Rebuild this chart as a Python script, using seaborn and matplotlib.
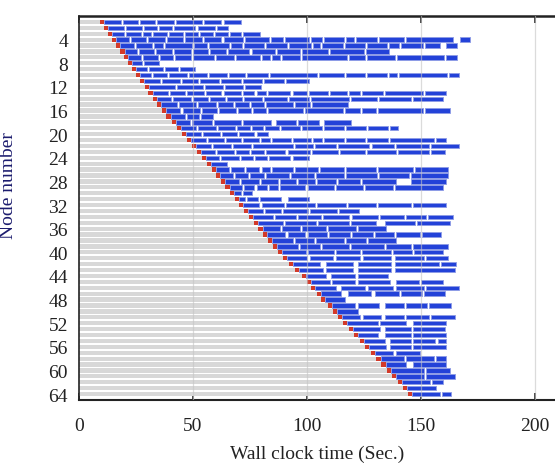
import numpy as np
import pandas as pd
import matplotlib
matplotlib.use("Agg")
import matplotlib.pyplot as plt
import seaborn as sns

# ---------------- data ----------------
nodes = list(range(1, 65))

start_times = [9.2, 11.0, 12.9, 14.6, 16.4, 18.2, 19.9, 21.6, 23.3, 25.0,
               26.9, 28.8, 30.5, 32.5, 34.3, 36.3, 38.4, 40.8, 43.1, 45.3,
               47.3, 49.4, 51.6, 53.8, 56.0, 58.3, 60.3, 62.3, 64.3, 66.3,
               68.4, 70.3, 72.5, 74.7, 76.8, 78.8, 80.8, 83.0, 85.2, 87.4,
               89.5, 92.2, 95.0, 97.7, 99.9, 102.0, 104.3, 106.4, 109.4, 111.5,
               113.7, 115.9, 118.6, 120.8, 123.2, 125.7, 128.0, 130.6, 132.8, 135.2,
               137.6, 140.0, 142.3, 144.4]

end_times = [71.3, 65.5, 79.5, 171.5, 166.0, 136.0, 166.0, 35.0, 51.0, 167.0,
             101.0, 80.0, 161.0, 160.0, 118.0, 163.0, 59.0, 119.6, 140.0, 83.0,
             161.0, 167.0, 160.5, 101.0, 65.0, 162.0, 162.0, 161.0, 160.0, 76.0,
             101.0, 161.0, 123.0, 164.0, 163.0, 135.0, 159.0, 139.0, 162.0, 160.0,
             162.0, 165.6, 165.0, 135.7, 159.8, 167.0, 160.5, 116.7, 163.5, 122.5,
             165.0, 161.3, 160.5, 161.3, 161.3, 161.3, 149.6, 161.3, 161.3, 162.7,
             165.0, 159.8, 156.9, 163.5]

# breaks between consecutive tasks (sec): a number = short break centred there,
# a pair = wider idle gap (from, to)
task_breaks = {
    1: [19.0, 26.4, 33.7, 42.0, 54.5, 63.0],
    2: [20.0, 28.0, 34.5, 41.3, 51.6, 60.3],
    3: [20.2, 27.5, 32.2, 39.2, 46.2, 52.6, 59.2, 65.9, 71.4],
    4: [22.4, 30.0, 38.2, 46.2, 54.5, 63.0, 72.4, 83.8, 89.9, 101.6, 107.2,
        116.7, 121.0, 131.3, 143.0, (164.3, 167.2)],
    5: [24.6, 32.6, 37.3, 50.1, 56.7, 66.2, 72.1, 81.6, 91.8, 102.4, 106.4,
        116.2, 126.2, 135.7, 140.8, 151.3, (158.3, 161.3)],
    6: [26.0, 33.3, 41.4, 49.7, 57.0, 64.8, 75.3, 86.3, 97.6, 109.6, 125.7],
    7: [27.8, 35.1, 41.7, 49.7, 59.6, 68.4, 80.1, 84.1, 88.5, 97.6, 118.1,
        126.2, 139.3, 160.8],
    8: [28.2],
    9: [30.4, 37.3, 43.9],
    10: [32.2, 39.2, 47.9, 56.7, 65.5, 73.5, 83.3, 104.9, 116.6, 126.2, 135.7,
         140.0, 162.0],
    11: [35.8, 44.6, 52.6, 62.1, 71.6, 80.9, 90.6],
    12: [42.4, 54.8, 63.6, 72.4],
    13: [39.5, 47.0, 55.5, 63.0, 71.5, 77.5, 82.6, 93.3, 100.6, 109.6, 118.1,
         124.0, 133.8, 151.5],
    14: [41.0, 49.5, 57.0, 64.5, 72.0, 80.9, 91.8, 101.6, 118.9, 131.3, 146.2],
    15: [43.5, 52.0, 60.5, 68.0, 75.0, 81.6, 94.3, 102.0],
    16: [45.0, 53.5, 61.0, 69.5, 76.0, 82.6, 98.7, 116.2, 124.0, 130.9, 151.3],
    17: [47.0, 53.0],
    18: [49.0, 58.9, 71.6, (84.5, 86.7), 95.6, (105.3, 107.5)],
    19: [52.0, 60.5, 69.0, 75.5, 81.1, 88.2, 97.6, 107.2, 117.0, 126.5, 136.0],
    20: [54.0, 62.5, 70.0, 77.5],
    21: [56.0, 64.0, 71.5, 79.4, 84.1, 93.6, 102.4, 107.2, 117.0, 126.2, 136.0,
         156.4],
    22: [58.5, 67.0, 76.0, 94.3, 103.1, 113.3, 128.0, 138.6, 154.2],
    23: [60.0, 68.5, 75.0, 81.6, 91.1, 102.0, 114.0, 126.2, 139.6, 154.2],
    24: [62.0, 70.5, 77.0, 83.0, 93.3],
    25: [],
    26: [66.5, 73.0, 79.7, 84.1, 94.3, 105.3, 116.6, 130.9, 147.0],
    27: [68.0, 74.5, 81.6, 92.5, 103.8, 116.6, 131.3, 145.5],
    28: [70.5, 79.4, 87.9, 95.7, 104.2, 113.3, 124.0, (139.3, 145.9)],
    29: [72.0, 77.5, 83.0, 87.7, 99.9, 112.6, 125.0, 138.2],
    30: [71.5],
    31: [73.5, 79.0, (88.9, 91.8)],
    32: [79.7, 90.6, 104.2, 117.7, 130.9, 146.2],
    33: [81.1, 89.2, 100.9, 113.7],
    34: [85.5, 95.7, 106.7, 119.2, 131.6, 143.0, 152.8],
    35: [89.9, 104.5, 118.9, (130.5, 134.2), 148.0],
    36: [88.5, 97.6, 108.9, 122.1],
    37: [91.1, 99.9, 109.4, 119.6, 129.4, 138.9, 150.0],
    38: [94.3, 103.8, 117.0, 126.5],
    39: [96.5, 106.4, 118.9, 134.2, 146.2],
    40: [100.2, 112.2, 124.0, 137.6, 146.6],
    41: [(99.9, 101.3), (111.5, 113.0), (123.2, 124.7), (137.1, 138.6), 152.0],
    42: [(105.7, 108.6), (120.3, 122.5), (137.1, 138.6), 158.3],
    43: [(107.2, 108.6), (120.3, 122.5), (137.1, 138.6)],
    44: [(108.6, 110.8), (121.0, 122.5)],
    45: [110.5, (121.0, 122.5), (136.4, 139.3), 149.6],
    46: [(113.0, 115.2), (125.4, 126.9), (137.8, 139.3), 152.1],
    47: [(115.2, 118.1), (128.4, 129.8), 141.1, 151.0],
    48: [],
    49: [(121.0, 122.5), (131.6, 134.2), 143.3, 153.2],
    50: [],
    51: [(123.2, 124.7), (132.7, 134.2), 143.3, 154.0],
    52: [131.6, (143.7, 146.6)],
    53: [(132.0, 134.2), 146.2],
    54: [(131.3, 134.2), 146.2],
    55: [(134.2, 136.4), 146.2, (156.1, 157.6)],
    56: [(134.9, 136.4), 146.2],
    57: [(137.8, 139.3)],
    58: [143.3, 156.5],
    59: [(143.7, 146.6)],
    60: [151.8],
    61: [151.8],
    62: [154.7],
    63: [],
    64: [159.1],
}

setup_len = 1.8   # red start-up segment length (sec)

x_ticks = [0, 50, 100, 150, 200]
y_ticks = list(range(4, 65, 4))

# ---------------- style ----------------
sns.set_theme(style="white")
plt.rcParams["font.family"] = ["Liberation Serif", "DejaVu Serif"]

GRAY = "#d8d8d8"
RED = "#d23a2a"
BLUE = "#2342d8"
BLUE_EDGE = "#8e9ce6"

df = pd.DataFrame({"node": nodes, "start": start_times, "end": end_times})
df["red_end"] = df["start"] + setup_len

fig = plt.figure(figsize=(5.55, 4.64), dpi=100)
ax = fig.add_axes([79 / 555, 1 - 401 / 464, 1 - 79 / 555, (401 - 17) / 464])

common = dict(y="node", orient="h", native_scale=True, errorbar=None,
              saturation=1, width=0.72, ax=ax, linewidth=0)
sns.barplot(data=df, x="red_end", color=RED, **common)
sns.barplot(data=df, x="start", color=GRAY, **common)

# blue task segments (split at the breaks)
gap = 0.9
h = 0.74
for n, r0, e in zip(df["node"], df["red_end"], df["end"]):
    idle = []
    for b in task_breaks.get(n, []):
        if isinstance(b, tuple):
            idle.append(b)
        else:
            idle.append((b - gap / 2, b + gap / 2))
    idle = sorted(g for g in idle if r0 < g[0] and g[1] < e)
    segs = []
    cur = r0
    for lo, hi in idle:
        segs.append((cur, lo - cur))
        cur = hi
    segs.append((cur, e - cur))
    ax.broken_barh(segs, (n - h / 2, h), facecolors=BLUE, edgecolors=BLUE_EDGE,
                   linewidth=0.6, zorder=3)

ax.set_xlim(0, 209)
ax.set_ylim(65, 0)

# grid lines on top
for xv in x_ticks[1:]:
    ax.axvline(xv, color="#c4c4c4", lw=0.9, alpha=0.6, zorder=5)

ax.set_xticks(x_ticks)
ax.set_xticklabels([str(v) for v in x_ticks])
ax.set_yticks(y_ticks)
ax.set_yticklabels([str(v) for v in y_ticks])
ax.set_yticks(nodes, minor=True)

ax.tick_params(axis="x", direction="in", length=5, width=1.2, color="#222222",
               labelsize=14, pad=12, top=True, bottom=True, labelcolor="#222222")
ax.tick_params(axis="y", which="major", direction="in", length=3, width=0.8,
               color="#222222", labelsize=14, pad=8, labelcolor="#222222")
ax.tick_params(axis="y", which="minor", direction="in", length=2, width=0.6,
               color="#444444", left=True)

for side in ["left", "bottom", "top"]:
    ax.spines[side].set_visible(True)
    ax.spines[side].set_color("#222222")
ax.spines["top"].set_linewidth(1.8)
ax.spines["bottom"].set_linewidth(1.5)
ax.spines["left"].set_linewidth(1.2)
ax.spines["right"].set_visible(False)

ax.set_xlabel("Wall clock time (Sec.)", fontsize=14, color="#222222", labelpad=8)
ax.set_ylabel("Node number", fontsize=14, color="#1c1c6e")
ax.yaxis.set_label_coords(-0.13, 0.56)

fig.savefig("out.png", dpi=100)
